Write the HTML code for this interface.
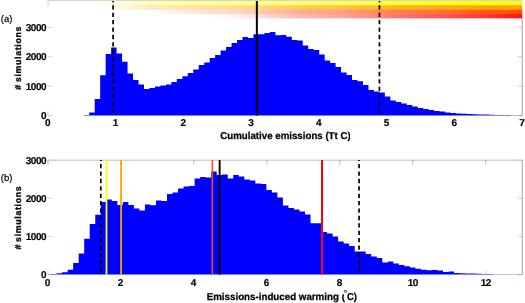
<!DOCTYPE html>
<html><head><meta charset="utf-8"><title>Histogram figure</title>
<style>
html,body{margin:0;padding:0;background:#fff;}
svg{display:block;will-change:transform;}
text{font-family:"Liberation Sans",sans-serif;fill:#000;text-rendering:geometricPrecision;}
.tk{font-size:10px;font-weight:bold;stroke:#000;stroke-width:0.15px;letter-spacing:-0.49px;}
.yl{font-size:8.8px;font-weight:bold;stroke:#000;stroke-width:0.3px;}
.ti{font-size:10px;font-weight:bold;stroke:#000;stroke-width:0.25px;}
.pl{font-size:9.5px;stroke:#000;stroke-width:0.2px;}
</style></head><body>
<svg width="525" height="303" viewBox="0 0 525 303">
<defs>
<linearGradient id="g1" gradientUnits="userSpaceOnUse" x1="0" y1="0" x2="525" y2="0"><stop offset="0.0000" stop-color="#ffffff"/><stop offset="0.1714" stop-color="#ffffff"/><stop offset="0.2000" stop-color="#fffff5"/><stop offset="0.2286" stop-color="#ffffde"/><stop offset="0.2610" stop-color="#ffffc2"/><stop offset="0.2952" stop-color="#ffffab"/><stop offset="0.3810" stop-color="#ffff96"/><stop offset="0.4476" stop-color="#ffff87"/><stop offset="0.5714" stop-color="#ffff61"/><stop offset="0.6381" stop-color="#ffff4f"/><stop offset="0.7619" stop-color="#ffff21"/><stop offset="0.8286" stop-color="#ffff14"/><stop offset="0.9238" stop-color="#ffff00"/></linearGradient>
<linearGradient id="g2" gradientUnits="userSpaceOnUse" x1="0" y1="0" x2="525" y2="0"><stop offset="0.0000" stop-color="#ffffff"/><stop offset="0.1752" stop-color="#ffffff"/><stop offset="0.2000" stop-color="#fffcf7"/><stop offset="0.2286" stop-color="#fff7e8"/><stop offset="0.2610" stop-color="#fff0d4"/><stop offset="0.2952" stop-color="#ffe9c2"/><stop offset="0.3810" stop-color="#ffe0a8"/><stop offset="0.4476" stop-color="#ffdb99"/><stop offset="0.5714" stop-color="#ffc866"/><stop offset="0.6381" stop-color="#ffc357"/><stop offset="0.7619" stop-color="#ffb021"/><stop offset="0.8286" stop-color="#ffac17"/><stop offset="0.9238" stop-color="#ffa400"/></linearGradient>
<linearGradient id="g3" gradientUnits="userSpaceOnUse" x1="0" y1="0" x2="525" y2="0"><stop offset="0.0000" stop-color="#ffffff"/><stop offset="0.2857" stop-color="#ffffff"/><stop offset="0.3810" stop-color="#ffe3d6"/><stop offset="0.4476" stop-color="#ffd8c7"/><stop offset="0.5714" stop-color="#ffad87"/><stop offset="0.6381" stop-color="#ffa278"/><stop offset="0.7619" stop-color="#ff8147"/><stop offset="0.8286" stop-color="#ff7638"/><stop offset="0.9238" stop-color="#ff5a0f"/><stop offset="0.9905" stop-color="#ff5000"/></linearGradient>
<linearGradient id="g4" gradientUnits="userSpaceOnUse" x1="0" y1="0" x2="525" y2="0"><stop offset="0.0000" stop-color="#ffffff"/><stop offset="0.3905" stop-color="#ffffff"/><stop offset="0.4476" stop-color="#fff5f5"/><stop offset="0.5714" stop-color="#ffb8b8"/><stop offset="0.6381" stop-color="#ffa8a8"/><stop offset="0.7619" stop-color="#ff7070"/><stop offset="0.8286" stop-color="#ff5959"/><stop offset="0.9238" stop-color="#ff3838"/><stop offset="0.9905" stop-color="#ff1414"/></linearGradient>
<clipPath id="cp"><rect x="200" y="120" width="150.0" height="30"/></clipPath>
</defs>
<rect x="0" y="0" width="525" height="303" fill="#fff"/>

<rect x="48.0" y="13" width="474.25" height="5.35" fill="url(#g4)"/>
<rect x="48.0" y="8.7" width="474.25" height="5.35" fill="url(#g3)"/>
<rect x="48.0" y="4.3" width="474.25" height="5.4" fill="url(#g2)"/>
<rect x="48.0" y="1.1" width="474.25" height="4.15" fill="url(#g1)"/>
<path d="M48.1,5.5V0.55H522.25" fill="none" stroke="#d4d4d4" stroke-width="1.1"/>
<path d="M522.25,18V115.55" fill="none" stroke="#8c8c8c" stroke-width="0.8"/>
<path d="M48.3,27.4h4.4M522.25,27.4h-4.6" stroke="#c8c8c8" stroke-width="0.8"/>
<text class="tk" x="46.1" y="31" text-anchor="end">3000</text>
<path d="M48.3,56.8h4.4M522.25,56.8h-4.6" stroke="#c8c8c8" stroke-width="0.8"/>
<text class="tk" x="46.1" y="60" text-anchor="end">2000</text>
<path d="M48.3,86.2h4.4M522.25,86.2h-4.6" stroke="#c8c8c8" stroke-width="0.8"/>
<text class="tk" x="46.1" y="90" text-anchor="end">1000</text>
<path d="M48.3,115.55h4.4M522.25,115.55h-4.6" stroke="#c8c8c8" stroke-width="0.8"/>
<text class="tk" x="46.1" y="119" text-anchor="end">0</text>
<path d="M48.00,115.55v-4.2" stroke="#c8c8c8" stroke-width="0.8"/>
<text class="tk" x="47.60" y="126" text-anchor="middle">0</text>
<path d="M115.75,115.55v-4.2" stroke="#c8c8c8" stroke-width="0.8"/>
<text class="tk" x="115.35" y="126" text-anchor="middle">1</text>
<path d="M183.50,115.55v-4.2" stroke="#c8c8c8" stroke-width="0.8"/>
<text class="tk" x="183.10" y="126" text-anchor="middle">2</text>
<path d="M251.25,115.55v-4.2" stroke="#c8c8c8" stroke-width="0.8"/>
<text class="tk" x="250.85" y="126" text-anchor="middle">3</text>
<path d="M319.00,115.55v-4.2" stroke="#c8c8c8" stroke-width="0.8"/>
<text class="tk" x="318.60" y="126" text-anchor="middle">4</text>
<path d="M386.75,115.55v-4.2" stroke="#c8c8c8" stroke-width="0.8"/>
<text class="tk" x="386.35" y="126" text-anchor="middle">5</text>
<path d="M454.50,115.55v-4.2" stroke="#c8c8c8" stroke-width="0.8"/>
<text class="tk" x="454.10" y="126" text-anchor="middle">6</text>
<path d="M522.25,115.55v-4.2" stroke="#c8c8c8" stroke-width="0.8"/>
<text class="tk" x="521.85" y="126" text-anchor="middle">7</text>
<path d="M83.75,115.55V115.00H89.22V112.50H94.70V99.00H100.17V75.20H105.65V53.90H111.12V47.40H116.60V53.50H122.07V61.80H127.55V73.40H133.03V80.00H138.50V84.40H143.97V89.00H149.45V88.00H154.93V86.60H160.40V85.40H165.88V84.40H171.35V82.00H176.82V79.00H182.30V76.30H187.77V73.00H193.25V69.40H198.72V65.00H204.20V62.60H209.68V58.00H215.15V55.00H220.62V50.60H226.10V47.00H231.57V43.00H237.05V40.00H242.52V37.10H248.00V37.90H253.47V34.20H258.95V34.20H264.42V33.00H269.90V32.00H275.38V35.30H280.85V35.00H286.32V36.80H291.80V40.00H297.27V40.40H302.75V45.60H308.23V49.00H313.70V50.00H319.17V54.40H324.65V60.60H330.12V63.00H335.60V67.00H341.07V72.40H346.55V75.00H352.02V80.00H357.50V81.30H362.97V85.00H368.45V90.00H373.92V91.60H379.40V92.40H384.88V96.40H390.35V100.60H395.82V102.00H401.30V103.60H406.77V105.00H412.25V106.60H417.72V108.00H423.20V109.00H428.67V110.00H434.15V111.00H439.62V111.60H445.10V112.40H450.57V113.00H456.05V113.40H461.52V113.70H467.00V113.95H472.47V114.20H477.95V114.40H483.42V114.60H488.90V114.75H494.38V114.90H499.85V115.00H505.32V115.10H510.80V115.20H516.27V115.25H521.75V115.55Z" fill="#0000ff"/>
<path d="M113.1,1V115.55" stroke="#000" stroke-width="1.7" stroke-dasharray="4.3 3.1" stroke-dashoffset="3.17"/>
<path d="M379.45,1V115.55" stroke="#000" stroke-width="1.7" stroke-dasharray="4.3 3.1" stroke-dashoffset="3.17"/>
<path d="M256.85,1V115.55" stroke="#000" stroke-width="2"/>
<text class="pl" x="0.8" y="22">(a)</text>
<text class="yl" transform="translate(20.7,89.8) rotate(-90)" >#</text>
<text class="yl" transform="translate(20.7,82.1) rotate(-90)" textLength="55.5" lengthAdjust="spacing">simulations</text>
<text class="ti" x="285.5" y="138.5" clip-path="url(#cp)" text-anchor="middle" textLength="130.4" lengthAdjust="spacingAndGlyphs">Cumulative emissions (Tt C)</text>
<path d="M48.2,160.2H522.25" fill="none" stroke="#bebebe" stroke-width="1.0"/>
<path d="M522.25,160.0V274.6" fill="none" stroke="#8c8c8c" stroke-width="0.8"/>
<path d="M48.3,160.0h4.4M522.25,160.0h-4.6" stroke="#c8c8c8" stroke-width="0.8"/>
<text class="tk" x="46.1" y="164" text-anchor="end">3000</text>
<path d="M48.3,198.3h4.4M522.25,198.3h-4.6" stroke="#c8c8c8" stroke-width="0.8"/>
<text class="tk" x="46.1" y="202" text-anchor="end">2000</text>
<path d="M48.3,236.4h4.4M522.25,236.4h-4.6" stroke="#c8c8c8" stroke-width="0.8"/>
<text class="tk" x="46.1" y="240" text-anchor="end">1000</text>
<path d="M48.3,274.6h4.4M522.25,274.6h-4.6" stroke="#c8c8c8" stroke-width="0.8"/>
<text class="tk" x="46.1" y="278" text-anchor="end">0</text>
<path d="M48.00,274.6v-4.2" stroke="#c8c8c8" stroke-width="0.8"/><path d="M48.00,160.0v4.6" stroke="#a6a6a6" stroke-width="0.8"/>
<text class="tk" x="47.40" y="286" text-anchor="middle">0</text>
<path d="M120.96,274.6v-4.2" stroke="#c8c8c8" stroke-width="0.8"/><path d="M120.96,160.0v4.6" stroke="#a6a6a6" stroke-width="0.8"/>
<text class="tk" x="120.36" y="286" text-anchor="middle">2</text>
<path d="M193.92,274.6v-4.2" stroke="#c8c8c8" stroke-width="0.8"/><path d="M193.92,160.0v4.6" stroke="#a6a6a6" stroke-width="0.8"/>
<text class="tk" x="193.32" y="286" text-anchor="middle">4</text>
<path d="M266.88,274.6v-4.2" stroke="#c8c8c8" stroke-width="0.8"/><path d="M266.88,160.0v4.6" stroke="#a6a6a6" stroke-width="0.8"/>
<text class="tk" x="266.28" y="286" text-anchor="middle">6</text>
<path d="M339.85,274.6v-4.2" stroke="#c8c8c8" stroke-width="0.8"/><path d="M339.85,160.0v4.6" stroke="#a6a6a6" stroke-width="0.8"/>
<text class="tk" x="339.25" y="286" text-anchor="middle">8</text>
<path d="M412.81,274.6v-4.2" stroke="#c8c8c8" stroke-width="0.8"/><path d="M412.81,160.0v4.6" stroke="#a6a6a6" stroke-width="0.8"/>
<text class="tk" x="412.76" y="286" text-anchor="middle">10</text>
<path d="M485.77,274.6v-4.2" stroke="#c8c8c8" stroke-width="0.8"/><path d="M485.77,160.0v4.6" stroke="#a6a6a6" stroke-width="0.8"/>
<text class="tk" x="485.72" y="286" text-anchor="middle">12</text>
<path d="M48.00,274.60V274.20H51.08V274.00H56.60V273.30H62.12V272.30H67.64V269.80H73.16V263.00H78.68V253.40H84.20V238.70H89.72V224.00H95.24V214.80H100.76V202.00H106.28V199.60H111.80V201.00H117.32V205.00H122.84V202.00H128.36V205.00H133.88V208.40H139.40V210.60H144.92V204.40H150.44V205.20H155.96V200.60H161.48V201.00H167.00V194.00H172.52V192.40H178.04V188.60H183.56V186.40H189.08V186.00H194.60V178.60H200.12V177.00H205.64V177.40H211.16V171.40H216.68V175.00H222.20V174.60H227.72V178.40H233.24V175.00H238.76V176.40H244.28V179.40H249.80V180.50H255.32V183.40H260.84V184.00H266.36V190.00H271.88V192.40H277.40V197.60H282.92V205.60H288.44V208.00H293.96V209.40H299.48V211.60H305.00V214.40H310.52V223.20H316.04V223.20H321.56V232.00H327.08V233.60H332.60V236.60H338.12V241.60H343.64V243.60H349.16V246.00H354.68V251.40H360.20V251.40H365.72V254.00H371.24V256.40H376.76V258.00H382.28V262.40H387.80V261.60H393.32V263.40H398.84V265.00H404.36V266.30H409.88V267.60H415.40V268.80H420.92V269.70H426.44V270.20H431.96V270.00H437.48V270.40H443.00V272.00H448.52V271.60H454.04V273.00H459.56V273.20H465.08V273.40H470.60V273.60H476.12V273.80H481.64V274.00H487.16V274.10H492.68V274.20H498.20V274.25H503.72V274.30H509.24V274.30H514.76V274.30H520.28V274.30H522.25V274.60Z" fill="#0000ff"/>
<path d="M100.8,160.0V274.6" stroke="#000" stroke-width="1.7" stroke-dasharray="4.3 3.1" stroke-dashoffset="3.33"/>
<path d="M359.05,160.0V274.6" stroke="#000" stroke-width="1.7" stroke-dasharray="4.3 3.1" stroke-dashoffset="3.33"/>
<path d="M106.5,160.0V274.6" stroke="#ffff00" stroke-width="1.8"/>
<path d="M121.1,160.0V274.6" stroke="#ffa000" stroke-width="1.8"/>
<path d="M212.35,160.0V274.6" stroke="#ff4a10" stroke-width="1.55"/>
<path d="M219.65,160.0V274.6" stroke="#000" stroke-width="1.9"/>
<path d="M322.0,160.0V274.6" stroke="#ff0000" stroke-width="2.0"/>
<text class="pl" x="0.8" y="181.4">(b)</text>
<text class="yl" transform="translate(20.7,249.6) rotate(-90)" >#</text>
<text class="yl" transform="translate(20.7,241.9) rotate(-90)" textLength="55.5" lengthAdjust="spacing">simulations</text>
<text class="ti" x="206.7" y="299.8" textLength="138.2" lengthAdjust="spacingAndGlyphs">Emissions-induced warming (</text>
<rect x="341.5" y="288" width="5.2" height="6.3" fill="#fff"/>
<text x="345.35" y="296.3" text-anchor="middle" style="font-size:8.5px;stroke:#000;stroke-width:0.15px">°</text>
<text class="ti" transform="translate(346.9,299.8) scale(0.95,1)">C)</text>
</svg></body></html>
